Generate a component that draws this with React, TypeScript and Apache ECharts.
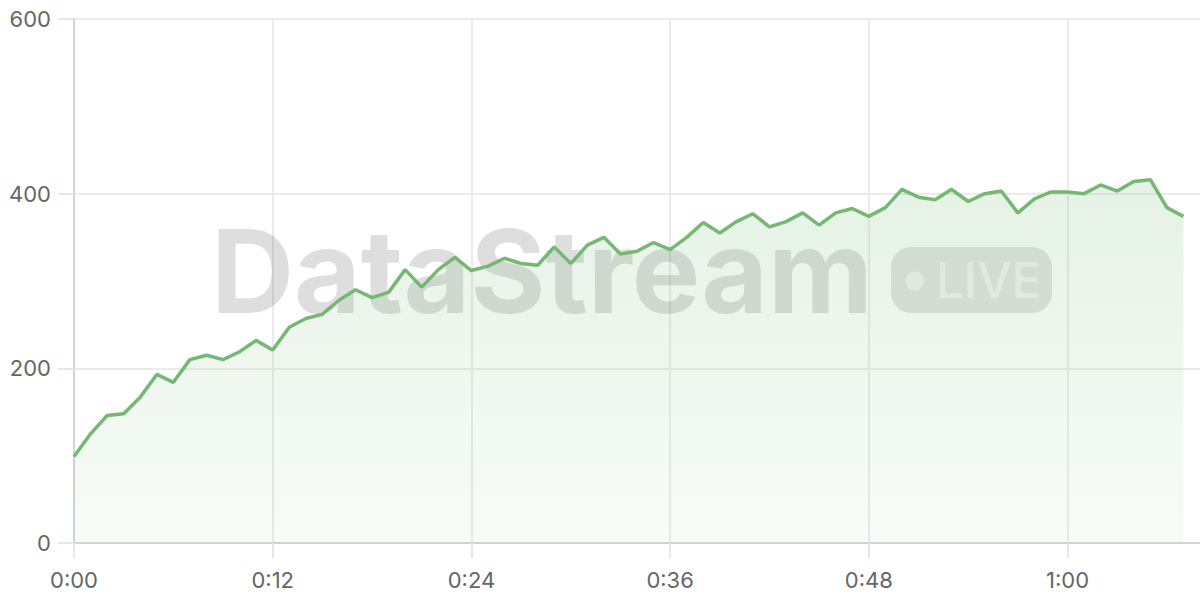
import * as echarts from 'echarts';
import React, { useEffect, useRef } from 'react';

// one reading per second, 0:00 .. 1:07
const throughput = [
  99, 125, 146, 148, 167, 193, 184, 210, 215, 210,
  219, 232, 221, 247, 257, 262, 278, 290, 281, 287,
  313, 293, 313, 327, 312, 317, 326, 320, 318, 339,
  320, 341, 350, 331, 334, 344, 336, 350, 367, 355,
  368, 377, 362, 368, 378, 364, 378, 383, 374, 384,
  405, 396, 393, 405, 391, 400, 403, 378, 394, 402,
  402, 400, 410, 403, 414, 416, 384, 374,
];

const yTicks = [0, 200, 400, 600];
const xTickStep = 12; // seconds between labels
const xMax = 68;

const watermarkTitle = 'DataStream';
const watermarkBadge = 'LIVE';

const fmtTime = (sec: number) => {
  const m = Math.floor(sec / 60);
  const s = Math.round(sec % 60);
  return `${m}:${s < 10 ? '0' : ''}${s}`;
};

const App: React.FC = () => {
  const chartRef = useRef<HTMLDivElement>(null);

  useEffect(() => {
    let chart: echarts.ECharts | undefined;
    if (chartRef.current) {
      chart = echarts.init(chartRef.current, undefined, { renderer: 'svg' });

      const option: echarts.EChartsOption = {
        animation: false,
        backgroundColor: '#ffffff',
        textStyle: { fontFamily: 'Inter, sans-serif' },
        grid: { left: 74, right: 0, top: 19, bottom: 57 },
        xAxis: {
          type: 'value',
          min: 0,
          max: xMax,
          interval: xTickStep,
          axisLine: { lineStyle: { color: '#d3d3d3', width: 2 } },
          axisTick: { show: true, length: 15, lineStyle: { color: '#e6e6e6', width: 2 } },
          axisLabel: {
            fontSize: 22,
            color: '#666',
            margin: 26,
            showMaxLabel: false,
            formatter: (v: number) => fmtTime(v),
          },
          splitLine: {
            show: true,
            showMaxLine: false,
            lineStyle: { color: '#ebebeb', width: 2 },
          },
        },
        yAxis: {
          type: 'value',
          min: yTicks[0],
          max: yTicks[yTicks.length - 1],
          interval: yTicks[1] - yTicks[0],
          axisLine: { show: true, lineStyle: { color: '#d3d3d3', width: 2 } },
          axisTick: { show: true, length: 16, lineStyle: { color: '#e6e6e6', width: 2 } },
          axisLabel: { fontSize: 22, color: '#666', margin: 23 },
          splitLine: { lineStyle: { color: '#ebebeb', width: 2 } },
        },
        graphic: [
          {
            type: 'text',
            z: 1,
            silent: true,
            x: 211,
            y: 271,
            style: {
              text: watermarkTitle,
              font: 'bold 115px Inter',
              fill: 'rgba(0,0,0,0.13)',
              textAlign: 'left',
              textVerticalAlign: 'middle',
            },
          },
          {
            type: 'rect',
            z: 1,
            silent: true,
            shape: { x: 891, y: 247, width: 161, height: 66, r: 20 },
            style: { fill: 'rgba(0,0,0,0.11)' },
          },
          {
            type: 'circle',
            z: 1,
            silent: true,
            shape: { cx: 915, cy: 281, r: 9.5 },
            style: { fill: 'rgba(255,255,255,0.55)' },
          },
          {
            type: 'text',
            z: 1,
            silent: true,
            x: 936,
            y: 280,
            style: {
              text: watermarkBadge,
              font: '500 49px Inter',
              fill: 'rgba(255,255,255,0.55)',
              textAlign: 'left',
              textVerticalAlign: 'middle',
            },
          },
        ],
        series: [
          {
            type: 'line',
            data: throughput.map((v, i) => [i, v]),
            showSymbol: false,
            lineStyle: { color: '#74b874', width: 3.5 },
            itemStyle: { color: '#74b874' },
            areaStyle: {
              color: new echarts.graphic.LinearGradient(0, 0, 0, 1, [
                { offset: 0, color: 'rgba(116,184,116,0.26)' },
                { offset: 1, color: 'rgba(116,184,116,0.07)' },
              ]),
            },
          },
        ],
      };

      chart.setOption(option);
    }

    return () => {
      chart?.dispose();
    };
  }, []);

  return (
    <div
      ref={chartRef}
      style={{ position: 'fixed', left: 0, top: 0, width: '1200px', height: '600px' }}
    />
  );
};

export default App;
